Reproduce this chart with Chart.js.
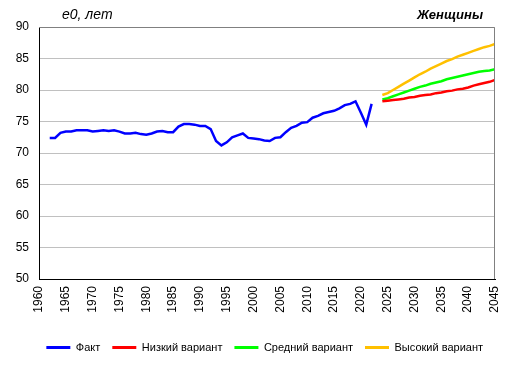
<!DOCTYPE html>
<html><head><meta charset="utf-8">
<script src="https://cdn.jsdelivr.net/npm/chart.js@4/dist/chart.umd.min.js"></script>
<style>html,body{margin:0;padding:0;background:#fff}#wrap{width:510px;height:372px}</style>
</head><body><div id="wrap"><canvas id="c" width="510" height="372"></canvas></div>
<script>
const factYears = [1962,1963,1964,1965,1966,1967,1968,1969,1970,1971,1972,1973,1974,1975,1976,1977,1978,1979,1980,1981,1982,1983,1984,1985,1986,1987,1988,1989,1990,1991,1992,1993,1994,1995,1996,1997,1998,1999,2000,2001,2002,2003,2004,2005,2006,2007,2008,2009,2010,2011,2012,2013,2014,2015,2016,2017,2018,2019,2020,2021,2022];
const factValues = [72.4,72.4,73.2,73.4,73.4,73.6,73.6,73.6,73.4,73.5,73.6,73.5,73.6,73.4,73.1,73.1,73.2,73.0,72.9,73.1,73.4,73.5,73.3,73.3,74.2,74.6,74.6,74.5,74.3,74.3,73.8,71.9,71.2,71.7,72.5,72.8,73.1,72.4,72.3,72.2,72.0,71.9,72.4,72.5,73.3,74.0,74.3,74.8,74.9,75.6,75.9,76.3,76.5,76.7,77.1,77.6,77.8,78.2,76.4,74.5,77.8];
const forecastYears = [2024,2025,2026,2027,2028,2029,2030,2031,2032,2033,2034,2035,2036,2037,2038,2039,2040,2041,2042,2043,2044,2045];
const lowValues = [78.2,78.3,78.4,78.5,78.6,78.8,78.9,79.1,79.2,79.3,79.5,79.6,79.8,79.9,80.1,80.2,80.4,80.7,80.9,81.1,81.3,81.6];
const midValues = [78.5,78.7,79.0,79.3,79.6,79.9,80.2,80.5,80.7,81.0,81.2,81.4,81.7,81.9,82.1,82.3,82.5,82.7,82.9,83.0,83.1,83.3];
const highValues = [79.2,79.5,80.0,80.5,81.0,81.5,82.0,82.5,82.9,83.4,83.8,84.2,84.6,84.9,85.3,85.6,85.9,86.2,86.5,86.8,87.0,87.3];
const seriesNames = ["Факт","Низкий вариант","Средний вариант","Высокий вариант"];
const yAxisTitle = "e0, лет";
const chartTitle = "Женщины";

const pts = (xs, ys) => xs.map((x,i)=>({x:x,y:ys[i]}));
const FONT = "'Liberation Sans', Arial, sans-serif";

const extras = {
  id:'extras',
  afterUpdate(chart){
    if (chart.legend && chart.legend.legendHitBoxes) chart.legend.legendHitBoxes.forEach(b=>{ b.left += 4; });
  },
  afterDraw(chart){
    const ctx = chart.ctx, a = chart.chartArea;
    ctx.save();
    ctx.strokeStyle = '#808080'; ctx.lineWidth = 1;
    ctx.beginPath();
    ctx.moveTo(a.left, a.top+0.5); ctx.lineTo(a.right-0.5, a.top+0.5); ctx.lineTo(a.right-0.5, a.bottom);
    ctx.stroke();
    ctx.fillStyle = '#000';
    ctx.textBaseline = 'middle';
    ctx.font = 'italic 14px ' + FONT;
    ctx.textAlign = 'left';
    ctx.fillText(yAxisTitle, 62, 15);
    ctx.font = 'bold italic 13px ' + FONT;
    ctx.textAlign = 'right';
    ctx.fillText(chartTitle, 483, 15);
    ctx.restore();
  }
};

new Chart(document.getElementById('c'), {
  type:'line',
  data:{datasets:[
    {label:seriesNames[0], data:pts(factYears,factValues), borderColor:'#0000ff', backgroundColor:'#0000ff', borderWidth:2.5},
    {label:seriesNames[1], data:pts(forecastYears,lowValues), borderColor:'#ff0000', backgroundColor:'#ff0000', borderWidth:2.5},
    {label:seriesNames[2], data:pts(forecastYears,midValues), borderColor:'#00ff00', backgroundColor:'#00ff00', borderWidth:2.5},
    {label:seriesNames[3], data:pts(forecastYears,highValues), borderColor:'#ffc000', backgroundColor:'#ffc000', borderWidth:2.5}
  ]},
  options:{
    responsive:false, animation:false, devicePixelRatio:1,
    elements:{point:{radius:0}, line:{tension:0}},
    layout:{padding:{top:27, right:15, left:0, bottom:9}},
    plugins:{
      tooltip:{enabled:false},
      title:{display:false},
      legend:{position:'bottom', align:'end',
        labels:{boxWidth:24, boxHeight:3, padding:12, color:'#000', font:{family:FONT, size:11},
          generateLabels(chart){
            return Chart.defaults.plugins.legend.labels.generateLabels(chart).map(l=>Object.assign(l,{lineWidth:0}));
          }}}
    },
    scales:{
      x:{type:'linear', min:1960, max:2045,
         afterFit(s){ s.height = 51; s.paddingLeft = 0; s.paddingRight = 0; },
         ticks:{stepSize:5, minRotation:90, maxRotation:90, autoSkip:false, color:'#000', font:{family:FONT, size:12}, padding:7,
                callback:(v)=>String(v)},
         grid:{display:false, drawTicks:false},
         border:{color:'#000', width:1}},
      y:{min:50, max:90,
         afterFit(s){ s.width = 39; s.paddingTop = 0; s.paddingBottom = 0; },
         ticks:{stepSize:5, color:'#000', font:{family:FONT, size:12}, padding:10},
         grid:{color:'#c0c0c0', drawTicks:false},
         border:{color:'#000', width:1}}
    }
  },
  plugins:[extras]
});
</script></body></html>
